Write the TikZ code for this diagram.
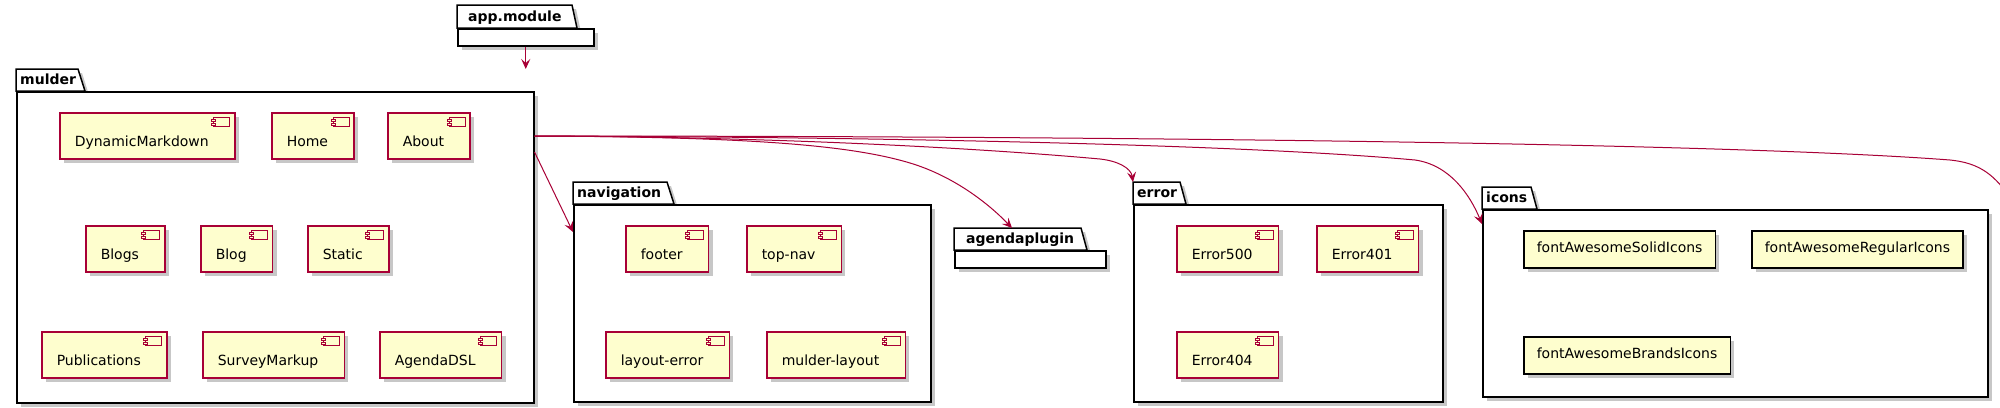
\documentclass[tikz,border=0pt]{standalone}
\usepackage{fontspec}
\setmainfont{DejaVu Sans}
\usetikzlibrary{arrows.meta,shadows,calc}
\definecolor{plred}{HTML}{A80036}
\definecolor{plyellow}{HTML}{FEFECE}
\begin{document}
\begin{tikzpicture}[x=1pt,y=-1pt,font=\fontsize{14pt}{17pt}\selectfont,
  shade/.style={drop shadow={shadow xshift=4pt,shadow yshift=-4pt,opacity=.22,fill=black}},
  pkgtab/.style={draw=black,line width=1.5pt,fill=white,shade},
  pkgbody/.style={draw=black,line width=1.5pt,fill=white,anchor=north west,inner sep=0pt,shade},
  pkglbl/.style={anchor=base west,inner sep=0pt,font=\fontsize{14pt}{17pt}\selectfont\bfseries},
  comp/.style={draw=plred,line width=1.5pt,fill=plyellow,anchor=north west,shade,
    inner sep=0pt,minimum height=46pt,text height=22pt,text depth=0pt,
    execute at begin node=\hspace{15pt},execute at end node=\hspace{26pt},
    path picture={
      \draw[plred,line width=1pt,fill=plyellow] ([xshift=-21pt,yshift=-5pt]path picture bounding box.north east) rectangle ++(16pt,-9pt);
      \draw[plred,line width=1pt,fill=plyellow] ([xshift=-23pt,yshift=-6.7pt]path picture bounding box.north east) rectangle ++(4pt,-2pt);
      \draw[plred,line width=1pt,fill=plyellow] ([xshift=-23pt,yshift=-10.3pt]path picture bounding box.north east) rectangle ++(4pt,-2pt);
    }},
  iconbox/.style={draw=black,line width=1.5pt,fill=plyellow,anchor=north west,shade,
    inner xsep=13pt,inner ysep=0pt,minimum height=37pt,text height=11pt,text depth=4pt},
  conn/.style={draw=plred,line width=1pt,-{Stealth[length=10pt,width=9pt,inset=4pt]}}]
\useasboundingbox (0,0) rectangle (2000,407);
\clip (0,0) rectangle (2000,407);

\draw[pkgtab] (457,28) -- (457,5) -- (572,5) -- (577,28) -- cycle;
\node[pkgbody,minimum width=136,minimum height=17] (app) at (457,28) {};
\node[pkglbl] (applbl) at (468,21.5) {app.module};

\draw[pkgtab] (16,91) -- (16,69) -- (78,69) -- (85,91) -- cycle;
\node[pkgbody,minimum width=517,minimum height=311] (mulder) at (16,91) {};
\node[pkglbl] (mulderlbl) at (20,84.5) {mulder};
\node[comp] (dynmd) at (59,112) {DynamicMarkdown};
\node[comp] (home) at (271,112) {Home};
\node[comp] (about) at (387,112) {About};
\node[comp] (blogs) at (85,225) {Blogs};
\node[comp] (blog) at (200,225) {Blog};
\node[comp] (static) at (307,225) {Static};
\node[comp] (pubs) at (41,331) {Publications};
\node[comp] (survey) at (202,331) {SurveyMarkup};
\node[comp] (agendadsl) at (379,331) {AgendaDSL};

\draw[pkgtab] (573,204) -- (573,182) -- (667,182) -- (674,204) -- cycle;
\node[pkgbody,minimum width=357,minimum height=197] (navigation) at (573,204) {};
\node[pkglbl] (navlbl) at (577,197.5) {navigation};
\node[comp] (footer) at (625,225) {footer};
\node[comp] (topnav) at (746,225) {top-nav};
\node[comp] (layouterr) at (605,331) {layout-error};
\node[comp] (mlayout) at (766,331) {mulder-layout};

\draw[pkgtab] (954,250) -- (954,228) -- (1081,228) -- (1087,250) -- cycle;
\node[pkgbody,minimum width=151,minimum height=17] (agendaplugin) at (954,250) {};
\node[pkglbl] (agendalbl) at (966,243.5) {agendaplugin};

\draw[pkgtab] (1133,204) -- (1133,182) -- (1180,182) -- (1186,204) -- cycle;
\node[pkgbody,minimum width=309,minimum height=197] (error) at (1133,204) {};
\node[pkglbl] (errorlbl) at (1137,197.5) {error};
\node[comp] (err500) at (1176,225) {Error500};
\node[comp] (err401) at (1316,225) {Error401};
\node[comp] (err404) at (1176,331) {Error404};

\draw[pkgtab] (1482,209) -- (1482,187) -- (1531,187) -- (1537,209) -- cycle;
\node[pkgbody,minimum width=505,minimum height=187] (icons) at (1482,209) {};
\node[pkglbl] (iconslbl) at (1486,202.5) {icons};
\node[iconbox] (solid) at (1523,230) {fontAwesomeSolidIcons};
\node[iconbox] (regular) at (1751,230) {fontAwesomeRegularIcons};
\node[iconbox] (brands) at (1523,336) {fontAwesomeBrandsIcons};

\coordinate (mout) at ($(mulder.north east)+(0,45)$);
\coordinate (offpage) at (2015,205);
\draw[conn] (app.south) -- ($(app.south |- mulder.north)+(0,-22)$);
\draw[conn] ($(mulder.north east)+(0,61)$) -- ($(navigation.north west)+(0,28)$);
\draw[conn] (mout) .. controls (750,137) and (850,145) .. (910,163) .. controls (950,175) and (985,200) .. ($(agendaplugin.north west)+(58,-22)$);
\draw[conn] (mout) .. controls (800,137) and (1000,150) .. (1100,159) .. controls (1118,161) and (1131,168) .. ($(error.north west)+(0,-22)$);
\draw[conn] (mout) .. controls (900,137) and (1250,145) .. (1415,160) .. controls (1450,165) and (1470,195) .. ($(icons.north west)+(0,15)$);
\draw[conn] (mout) .. controls (1000,136) and (1700,141) .. (1950,160) .. controls (1980,163) and (1995,175) .. (offpage);
\end{tikzpicture}
\end{document}
